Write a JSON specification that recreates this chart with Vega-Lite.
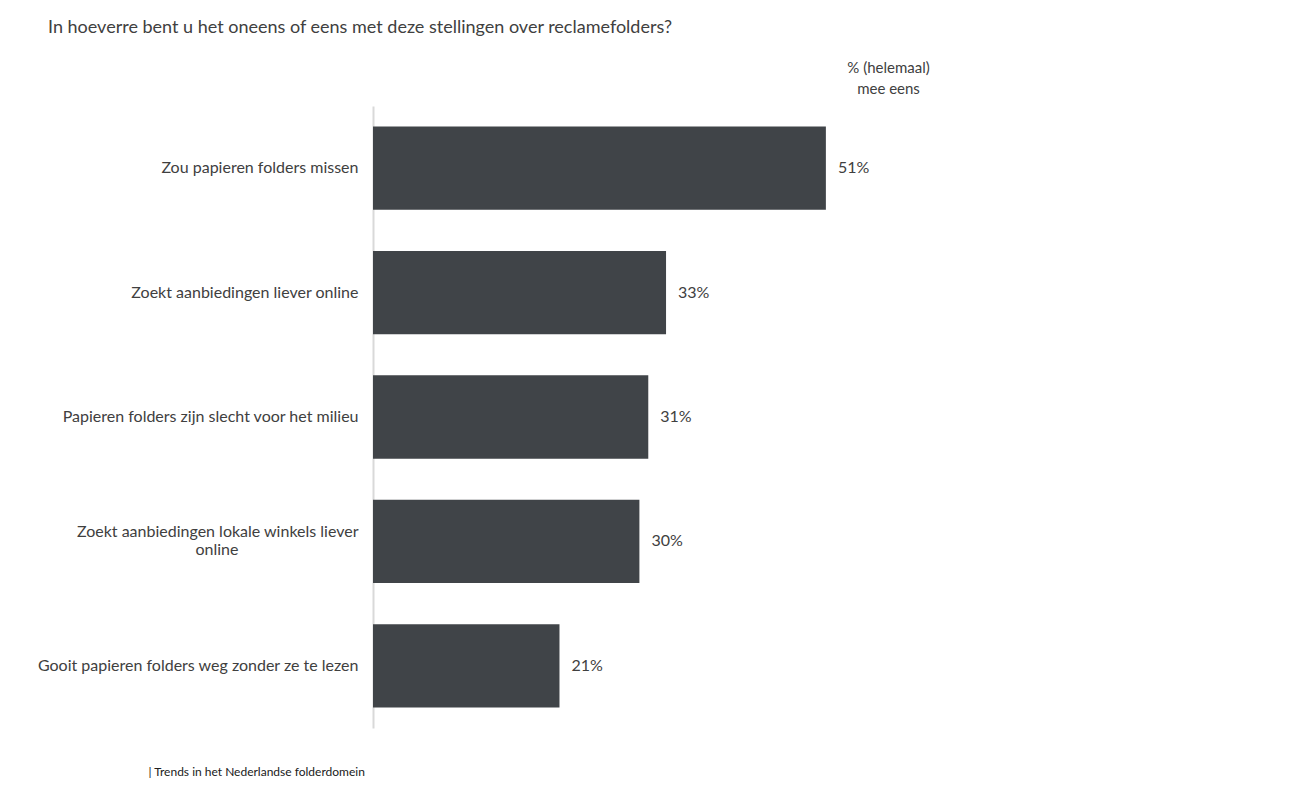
{
  "$schema": "https://vega.github.io/schema/vega-lite/v6.json",
  "autosize": "none",
  "width": 888,
  "height": 622,
  "padding": {"left": 373, "top": 106, "right": 49, "bottom": 77},
  "background": "white",
  "config": {
    "font": "Lato",
    "view": {"stroke": null},
    "text": {"font": "Lato"}
  },
  "title": {
    "text": "In hoeverre bent u het oneens of eens met deze stellingen over reclamefolders?",
    "anchor": "start",
    "frame": "group",
    "dx": -325,
    "offset": 9,
    "baseline": "alphabetic",
    "fontSize": 18,
    "fontWeight": "normal",
    "color": "#404040",
    "font": "Lato"
  },
  "data": {
    "values": [
      {"stelling": "Zou papieren folders missen", "pct": 51, "label": "51%"},
      {"stelling": "Zoekt aanbiedingen liever online", "pct": 33, "label": "33%"},
      {"stelling": "Papieren folders zijn slecht voor het milieu", "pct": 31, "label": "31%"},
      {"stelling": "Zoekt aanbiedingen lokale winkels liever online", "pct": 30, "label": "30%"},
      {"stelling": "Gooit papieren folders weg zonder ze te lezen", "pct": 21, "label": "21%"}
    ]
  },
  "encoding": {
    "y": {
      "field": "stelling",
      "type": "nominal",
      "sort": null,
      "scale": {"paddingInner": 0.33, "paddingOuter": 0.165},
      "axis": {
        "title": null,
        "domainColor": "#d9d9d9",
        "domainWidth": 2,
        "ticks": false,
        "labelPadding": 15,
        "labelFontSize": 16,
        "labelColor": "#404040",
        "labelFont": "Lato",
        "labelLimit": 400,
        "labelExpr": "datum.value == 'Zoekt aanbiedingen lokale winkels liever online' ? ['Zoekt aanbiedingen lokale winkels liever', 'online\u2800\u2800\u2800\u2800\u2800\u2800\u2800\u2800\u2800\u2800'] : datum.value",
        "labelOffset": {"condition": {"test": "datum.value == 'Zoekt aanbiedingen lokale winkels liever online'", "value": -9}, "value": 0},
        "labelLineHeight": 18
      }
    }
  },
  "layer": [
    {
      "mark": {"type": "bar", "color": "#404448"},
      "encoding": {
        "x": {
          "field": "pct",
          "type": "quantitative",
          "scale": {"domain": [0, 100]},
          "axis": {
            "orient": "bottom",
            "labels": false,
            "ticks": false,
            "domain": false,
            "grid": false,
            "title": "| Trends in het Nederlandse folderdomein",
            "titleFont": "Lato",
            "titleFontSize": 12,
            "titleFontWeight": "normal",
            "titleColor": "#202020",
            "titleAnchor": "start",
            "titleAlign": "left",
            "titleX": -225,
            "titleY": 47,
            "titleBaseline": "alphabetic"
          }
        }
      }
    },
    {
      "mark": {"type": "text", "align": "left", "dx": 12, "fontSize": 16, "color": "#404040", "font": "Lato"},
      "encoding": {
        "x": {
          "field": "pct",
          "type": "quantitative",
          "axis": {
            "orient": "top",
            "labels": false,
            "ticks": false,
            "domain": false,
            "grid": false,
            "title": ["% (helemaal)", "mee eens"],
            "titleFont": "Lato",
            "titleFontSize": 15,
            "titleFontWeight": "normal",
            "titleColor": "#404040",
            "titleAlign": "center",
            "titleX": 515,
            "titleY": -34,
            "titleLineHeight": 21,
            "titleBaseline": "alphabetic"
          }
        },
        "text": {"field": "label"}
      }
    }
  ],
  "resolve": {"axis": {"x": "independent"}}
}
